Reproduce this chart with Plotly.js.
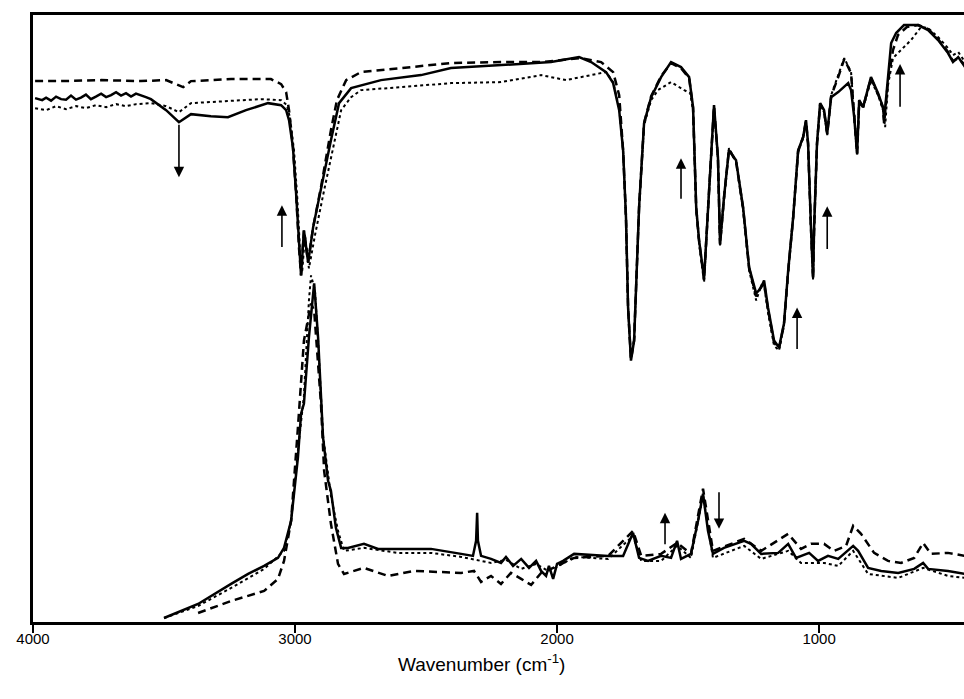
<!DOCTYPE html>
<html>
<head>
<meta charset="utf-8">
<script src="https://cdn.plot.ly/plotly-3.0.1.min.js"></script>
<style>html,body{margin:0;padding:0;background:#fff;}#chart{width:964px;height:699px;}</style>
</head>
<body>
<div id="chart"></div>
<script>
// ---- IR (top) spectra: wavenumber (cm-1) and relative transmittance (arb.) ----
var irSolidX = [3992,3965,3950,3931,3912,3893,3874,3855,3836,3817,3798,3779,3760,3740,3721,3702,3683,3664,3645,3626,3607,3588,3569,3550,3492,3443,3397,3321,3256,3187,3103,3053,3034,3023,3008,2996,2985,2977,2966,2950,2931,2901,2863,2832,2786,2672,2519,2405,2214,2023,1916,1870,1813,1786,1763,1748,1737,1729,1718,1706,1687,1668,1641,1603,1565,1527,1496,1481,1469,1458,1439,1420,1401,1386,1378,1363,1344,1317,1290,1267,1240,1221,1210,1195,1172,1153,1134,1118,1099,1080,1061,1050,1042,1031,1023,1019,1008,996,981,969,954,927,889,878,866,855,847,832,802,775,756,752,737,725,706,676,622,584,546,508,489,469,443];
var irSolidY = [104.6,104.2,104.7,104.1,104.9,104.4,104.3,105.1,104.3,104.7,105.3,104.4,104.9,105.5,104.8,105.2,105.8,105.1,105.6,104.9,105.5,105.2,104.8,104.4,102.2,99.8,101.4,101.0,100.8,102.2,103.6,103.2,102.2,100.2,94.8,85.6,74.8,69.2,78.2,71.8,78.8,86.8,96.2,103.6,106.6,108.2,109.2,110.6,111.2,111.8,112.8,111.8,109.8,107.6,102.2,94.2,80.8,62.8,52.2,56.2,82.8,99.6,104.8,108.8,111.8,110.8,108.8,102.8,82.8,76.2,68.6,86.2,103.2,92.8,75.6,84.8,94.2,92.2,82.8,70.8,65.6,66.8,68.2,62.8,56.2,54.8,59.6,70.2,80.8,94.2,96.8,100.2,95.6,78.8,68.8,78.8,95.6,103.6,102.2,97.6,104.8,105.8,107.6,106.2,100.8,93.6,104.2,102.8,108.8,105.6,102.8,100.2,108.8,115.6,117.6,119.2,119.2,118.2,116.2,113.6,111.8,112.8,110.8];

var irDotX = [3992,3950,3912,3874,3836,3798,3760,3721,3683,3645,3607,3550,3492,3443,3397,3282,3130,3053,3031,3019,3004,2992,2981,2973,2962,2947,2924,2893,2855,2824,2786,2748,2595,2405,2214,2061,1966,1870,1813,1786,1763,1748,1737,1729,1718,1706,1687,1668,1641,1615,1565,1515,1492,1481,1469,1458,1439,1420,1401,1386,1378,1363,1344,1317,1290,1267,1240,1221,1210,1195,1172,1153,1134,1118,1099,1080,1061,1050,1042,1031,1023,1019,1008,996,981,969,954,927,904,878,866,855,847,832,802,775,756,748,737,718,699,649,611,584,546,508,489,469,443];
var irDotY = [102.6,102.2,103.0,102.4,103.0,102.6,103.2,102.8,103.4,103.0,103.4,103.6,103.0,101.8,103.6,104.0,104.4,104.2,103.2,100.6,94.2,85.2,74.2,69.8,77.2,70.6,77.2,85.2,94.2,102.2,104.8,106.2,106.8,107.6,107.8,109.2,108.2,109.2,109.8,107.8,102.6,94.2,80.8,62.8,52.6,56.2,82.8,99.2,104.2,106.2,107.8,106.2,105.6,102.2,82.2,75.6,67.8,85.8,102.8,92.2,75.2,84.2,94.6,91.8,82.2,70.2,64.2,67.2,67.2,61.8,55.2,54.2,59.2,69.8,80.6,93.8,96.6,99.8,95.2,78.2,68.2,78.2,95.2,103.2,101.8,97.2,105.2,109.2,112.6,109.8,101.2,93.2,103.8,102.6,108.2,105.2,102.2,98.8,107.2,112.6,113.6,116.2,118.8,118.6,116.8,114.6,113.2,113.8,111.8];

var irDashX = [3992,3893,3740,3588,3492,3454,3427,3397,3244,3092,3053,3034,3023,3008,2996,2985,2977,2966,2950,2931,2901,2863,2840,2805,2748,2595,2405,2214,2061,1908,1832,1786,1763,1748,1737,1729,1718,1706,1687,1668,1641,1603,1565,1527,1496,1481,1469,1458,1439,1420,1401,1386,1378,1363,1344,1317,1290,1267,1240,1221,1210,1195,1172,1153,1134,1118,1099,1080,1061,1050,1042,1031,1023,1019,1008,996,981,969,954,927,904,878,866,855,847,832,802,775,756,752,737,718,699,665,622,584,546,508,489,469,443];
var irDashY = [108.0,108.0,108.2,108.0,108.2,107.4,106.8,108.0,108.4,108.4,107.4,105.8,102.2,94.8,85.6,74.8,69.2,78.2,71.8,78.8,86.8,98.2,104.2,108.2,109.8,110.6,111.6,111.8,111.8,112.6,111.8,109.8,105.2,94.2,80.8,62.8,52.4,56.2,82.8,99.6,105.0,109.0,111.6,110.6,108.6,102.6,82.6,76.0,68.4,86.0,103.0,92.6,75.4,84.6,94.4,92.0,82.6,70.6,65.0,67.0,67.8,62.4,55.8,54.6,59.4,70.0,80.8,94.0,96.8,100.0,95.4,78.6,68.6,78.6,95.4,103.4,102.0,97.4,105.0,108.8,112.4,109.6,101.0,93.4,104.0,102.8,108.6,105.4,102.6,99.6,108.0,114.2,117.2,118.8,119.2,118.4,116.4,113.8,112.0,112.6,111.2];

// ---- Raman (bottom) spectra: Raman shift (cm-1) and intensity (arb.) ----
var raSolidX = [3500,3370,3244,3179,3118,3065,3042,3015,2989,2977,2966,2947,2927,2912,2893,2874,2863,2844,2824,2798,2737,2683,2607,2481,2366,2321,2309,2305,2302,2290,2252,2214,2195,2168,2137,2107,2080,2061,2042,2031,2015,2000,1977,1935,1805,1748,1710,1687,1653,1603,1565,1542,1527,1489,1462,1443,1424,1405,1363,1286,1260,1221,1156,1118,1088,1038,1004,966,927,870,851,813,763,698,637,603,584,508,443];
var raSolidY = [0.8,3.6,7.6,9.6,11.2,12.8,14.8,20.2,32.8,41.6,43.6,56.8,67.6,56.8,36.8,28.2,26.2,18.8,14.8,14.8,15.6,14.6,14.6,14.6,13.6,13.2,16.2,21.8,16.2,13.2,12.6,11.8,13.0,11.2,12.6,10.8,12.2,10.2,9.2,11.2,8.6,11.6,12.2,13.6,13.2,13.2,17.8,12.8,12.2,13.2,12.8,16.2,12.6,13.6,20.2,25.6,18.2,13.6,14.8,16.2,15.6,13.6,13.8,15.6,12.8,13.8,12.2,13.2,12.6,15.2,14.2,10.8,10.2,9.8,10.6,11.8,10.6,10.2,9.6];

var raDotX = [3500,3370,3244,3118,3042,3015,2989,2966,2947,2939,2924,2912,2893,2863,2836,2813,2737,2607,2481,2366,2252,2195,2137,2080,2034,2000,1935,1805,1710,1679,1603,1542,1489,1443,1405,1286,1221,1118,1069,981,927,870,813,698,603,508,443];
var raDotY = [0.8,3.2,6.8,10.6,14.2,20.2,34.2,45.2,64.2,69.2,66.2,56.2,37.2,25.2,18.2,14.2,14.8,13.8,13.8,13.0,11.8,12.4,10.6,11.6,10.2,11.0,13.0,12.6,17.2,12.2,12.2,15.2,12.8,25.2,12.8,15.2,12.6,14.2,11.8,11.8,11.2,14.2,9.6,8.8,10.8,9.2,8.8];

var raDashX = [3370,3244,3118,3065,3042,3015,2989,2966,2939,2927,2901,2889,2863,2836,2813,2737,2645,2546,2366,2317,2290,2252,2214,2176,2137,2099,2061,2023,1935,1805,1710,1679,1603,1542,1489,1443,1405,1286,1221,1118,1069,1031,981,943,897,870,840,790,737,687,637,603,573,508,443];
var raDashY = [1.8,4.2,6.2,8.6,12.2,20.2,38.8,56.2,63.6,62.2,43.6,30.2,19.6,11.6,9.6,10.8,9.2,10.2,9.8,10.2,8.0,9.2,7.6,9.8,8.6,7.4,9.8,10.6,12.8,13.2,18.2,13.2,13.6,15.8,13.6,26.6,14.2,16.6,14.2,17.6,14.6,15.6,15.6,14.2,15.2,19.2,17.6,13.8,12.2,11.8,12.8,15.8,13.6,13.8,13.2];

// ---- arrows marking spectral changes ----
var arrowX    = [3443,3050,1527,969,691,1084,1588,1382];
var arrowHead = [88.8,83.2,92.6,83.0,111.4,62.8,21.8,18.6];
var arrowTail = [99.6,74.6,84.2,74.2,102.6,54.2,15.2,26.2];

var tickVals = [4000,3000,2000,1000];
var tickText = ['4000','3000','2000','1000'];
var xTitle = 'Wavenumber (cm<sup>-1</sup>)';

function line(x, y, dash, w) {
  return {x: x, y: y, type: 'scatter', mode: 'lines', showlegend: false, hoverinfo: 'skip',
          line: {color: '#000', width: w, dash: dash, shape: 'linear'}};
}

var data = [
  line(irDotX, irDotY, 'dot', 2),
  line(irDashX, irDashY, '8px,5px', 2.5),
  line(irSolidX, irSolidY, 'solid', 2.5),
  line(raDotX, raDotY, 'dot', 2),
  line(raDashX, raDashY, '8px,5px', 2.5),
  line(raSolidX, raSolidY, 'solid', 2.5)
];

var annotations = arrowX.map(function (x, i) {
  return {x: x, y: arrowHead[i], ax: x, ay: arrowTail[i], xref: 'x', yref: 'y', axref: 'x', ayref: 'y',
          text: '', showarrow: true, arrowhead: 2, arrowsize: 1.3, arrowwidth: 1.6, arrowcolor: '#000'};
});
// axis title, centred where the original (wider, cropped) plot area was centred
annotations.push({text: xTitle, xref: 'paper', yref: 'paper', x: 0.482, y: -0.068,
  xanchor: 'center', yanchor: 'middle', showarrow: false,
  font: {size: 19, family: 'Liberation Sans, Arial, sans-serif', color: '#000'}});

var layout = {
  width: 964, height: 699,
  margin: {l: 33, r: 0, t: 15, b: 77},
  paper_bgcolor: '#fff', plot_bgcolor: '#fff',
  font: {family: 'Liberation Sans, Arial, sans-serif', color: '#000'},
  xaxis: {
    range: [4000, 447], autorange: false,
    tickmode: 'array', tickvals: tickVals, ticktext: tickText,
    ticks: 'outside', ticklen: 8, tickwidth: 2, tickcolor: '#000',
    ticklabelstandoff: -7,
    showline: true, linewidth: 3, linecolor: '#000', mirror: true,
    showgrid: false, zeroline: false,
    tickfont: {size: 15, family: 'Liberation Sans, Arial, sans-serif'}
  },
  yaxis: {
    range: [0, 121.2], autorange: false,
    showticklabels: false, ticks: '', showgrid: false, zeroline: false,
    showline: true, linewidth: 3, linecolor: '#000', mirror: false
  },
  annotations: annotations
};

Plotly.newPlot('chart', data, layout, {displayModeBar: false, staticPlot: true});
</script>
</body>
</html>
